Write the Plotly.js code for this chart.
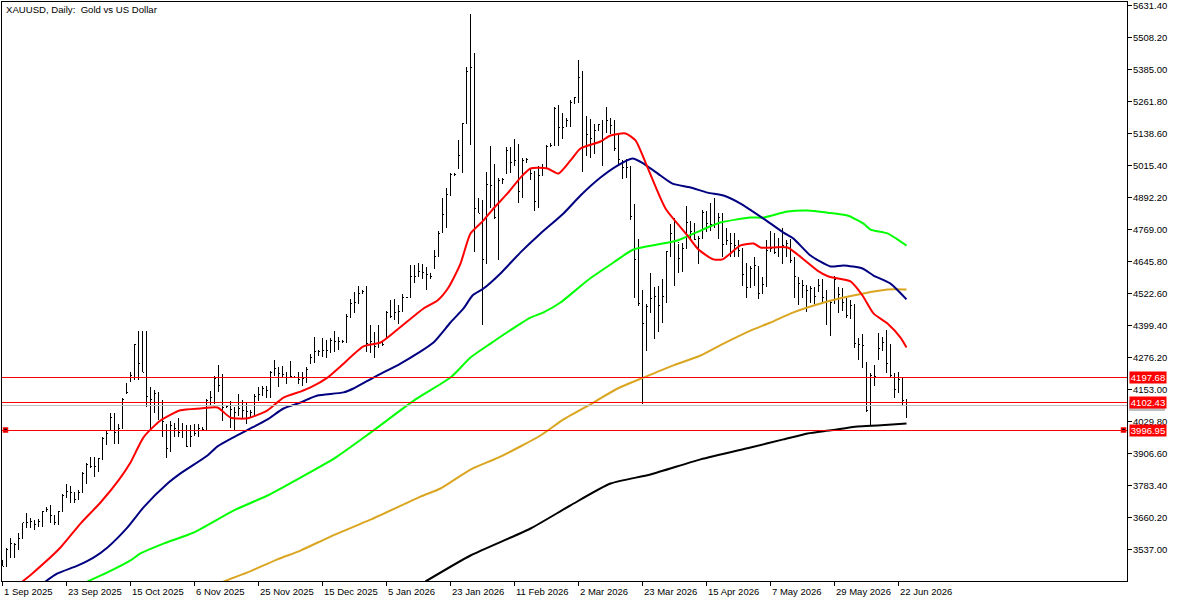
<!DOCTYPE html>
<html><head><meta charset="utf-8">
<script src="https://cdn.plot.ly/plotly-3.0.1.min.js"></script>
<style>html,body{margin:0;padding:0;background:#fff}#c{width:1179px;height:602px}
.shapelayer path,.ohlc path,.ohlclayer path,.xtick,.ytick,path.crisp{shape-rendering:crispEdges !important}</style>
</head><body><div id="c"></div>
<script>
const chartTitle = "XAUUSD, Daily:  Gold vs US Dollar";
const dateTickIdx = [0,16,32,48,64,80,96,112,128,144,160,176,192,208,224];
const dateTickText = ["1 Sep 2025","23 Sep 2025","15 Oct 2025","6 Nov 2025","25 Nov 2025","15 Dec 2025","5 Jan 2026","23 Jan 2026","11 Feb 2026","2 Mar 2026","23 Mar 2026","15 Apr 2026","7 May 2026","29 May 2026","22 Jun 2026"];
const priceTicks = [5631.4,5508.2,5385,5261.8,5138.6,5015.4,4892.2,4769,4645.8,4522.6,4399.4,4276.2,4153,4029.8,3906.6,3783.4,3660.2,3537];
const priceTickText = ["5631.40","5508.20","5385.00","5261.80","5138.60","5015.40","4892.20","4769.00","4645.80","4522.60","4399.40","4276.20","4153.00","4029.80","3906.60","3783.40","3660.20","3537.00"];

const highs = [3495,3541,3580,3564,3599,3641,3676,3657,3649,3653,
3687,3699,3707,3668,3687,3749,3791,3780,3753,3765,
3834,3872,3895,3895,3891,3969,3992,4061,4061,4022,
4119,4180,4219,4330,4380,4380,4377,4161,4153,4145,
4111,4022,4030,4026,4045,4026,4015,4015,4022,4022,
4007,4115,4149,4207,4246,4211,4092,4107,4084,4134,
4111,4103,4073,4134,4161,4168,4168,4226,4265,4238,
4242,4219,4261,4207,4219,4219,4238,4288,4354,4307,
4350,4342,4350,4377,4357,4342,4442,4500,4527,4550,
4535,4550,4403,4373,4403,4334,4457,4496,4500,4477,
4519,4511,4631,4634,4642,4638,4623,4600,4692,4765,
4889,4927,4985,4985,5112,5181,5393,5597,5450,4892,
4881,4992,5092,5023,4969,4969,5085,5085,5119,5100,
5046,5046,5000,4996,5012,5023,5096,5104,5239,5250,
5219,5200,5266,5281,5420,5381,5208,5196,5177,5177,
5192,5239,5200,5192,5135,5038,5042,5015,4866,4734,
4535,4484,4603,4546,4553,4580,4688,4792,4815,4715,
4719,4858,4800,4796,4746,4846,4842,4873,4889,4831,
4831,4773,4754,4754,4727,4696,4642,4627,4662,4627,
4588,4727,4765,4754,4738,4773,4727,4734,4662,4585,
4573,4553,4550,4546,4580,4580,4538,4496,4592,4546,
4542,4504,4496,4481,4350,4365,4257,4215,4246,4369,
4354,4384,4330,4215,4219,4199,4115];
const lows = [3472,3472,3506,3506,3537,3580,3618,3618,3614,3622,
3622,3680,3641,3630,3630,3680,3734,3718,3718,3726,
3753,3791,3849,3815,3834,3880,3938,3996,3945,3945,
4003,4138,4184,4188,4188,4219,4084,3999,4061,4034,
3972,3888,3911,3969,3969,3965,3930,3930,3976,3972,
3996,3996,4092,4099,4142,4030,4080,4003,3996,4053,
4045,4019,4042,4053,4107,4130,4122,4122,4207,4161,
4196,4176,4196,4196,4176,4165,4180,4253,4257,4284,
4280,4273,4295,4299,4307,4334,4334,4427,4446,4481,
4523,4299,4292,4273,4311,4322,4350,4427,4419,4407,
4450,4504,4511,4565,4585,4580,4538,4577,4619,4662,
4758,4773,4900,4977,5004,4985,5177,5096,4681,4831,
4400,4638,4850,4811,4650,4946,4985,4985,5015,4873,
4889,5027,4961,4839,4850,4977,5004,5089,5092,5089,
5119,5162,5162,5254,5258,4992,5054,5046,5061,5150,
5012,5142,5138,5073,5023,4965,4969,4804,4504,4473,
4099,4303,4446,4346,4373,4411,4488,4662,4550,4600,
4604,4696,4727,4727,4638,4738,4758,4765,4773,4734,
4662,4708,4662,4662,4665,4550,4507,4542,4553,4500,
4523,4546,4681,4673,4662,4638,4665,4642,4507,4477,
4507,4450,4488,4484,4527,4484,4400,4361,4484,4446,
4457,4427,4423,4311,4268,4234,4065,4015,4165,4265,
4303,4215,4203,4122,4138,4092,4045];
const opens = [3483,3472,3537,3560,3541,3580,3641,3641,3645,3634,
3645,3684,3691,3668,3641,3684,3745,3761,3757,3730,
3757,3830,3864,3857,3857,3887,3965,3996,4045,3988,
4003,4138,4184,4207,4326,4253,4219,4126,4115,4126,
4103,4019,3926,4003,4003,3988,3996,3934,3976,3984,
4003,3999,4111,4122,4196,4168,4084,4088,4076,4065,
4080,4073,4069,4065,4126,4134,4157,4149,4219,4234,
4215,4211,4199,4203,4199,4192,4196,4253,4276,4299,
4299,4303,4303,4342,4338,4338,4338,4434,4484,4488,
4523,4531,4330,4338,4319,4334,4350,4450,4434,4450,
4453,4507,4507,4588,4588,4607,4604,4596,4619,4665,
4758,4827,4904,4981,5004,5054,5177,5377,5393,4850,
4831,4654,4942,4938,4815,4958,4985,5073,5027,5035,
4915,5035,5000,4985,4877,4977,5004,5089,5092,5235,
5162,5169,5189,5258,5277,5331,5135,5135,5119,5162,
5173,5189,5189,5169,5081,5004,5008,5008,4819,4654,
4484,4407,4473,4504,4511,4477,4511,4684,4754,4719,
4657,4696,4796,4761,4730,4734,4834,4792,4788,4788,
4815,4711,4727,4715,4708,4688,4596,4546,4619,4627,
4523,4557,4688,4696,4681,4700,4708,4715,4646,4585,
4561,4553,4535,4542,4546,4553,4507,4492,4484,4530,
4507,4488,4438,4477,4330,4326,4257,4069,4207,4269,
4311,4334,4253,4207,4153,4192,4111];
const closes = [3472,3537,3560,3557,3580,3641,3641,3645,3634,3645,
3684,3691,3668,3641,3684,3745,3761,3757,3730,3757,
3830,3864,3857,3857,3887,3965,3984,4045,3988,4003,
4115,4142,4207,4326,4253,4219,4126,4115,4138,4103,
4030,3926,4015,4003,3988,3996,3934,3972,3984,4003,
3999,4111,4122,4196,4168,4084,4088,4076,4065,4080,
4073,4069,4065,4126,4134,4157,4149,4219,4234,4215,
4211,4199,4203,4199,4192,4196,4230,4276,4299,4299,
4303,4303,4342,4338,4338,4338,4434,4484,4488,4523,
4531,4330,4338,4319,4334,4326,4450,4434,4450,4453,
4507,4507,4588,4588,4607,4604,4596,4588,4665,4754,
4827,4904,4981,4981,5054,5177,5377,5393,4850,4831,
4654,4942,4938,4815,4958,4961,5073,5027,5035,4915,
5035,5038,4985,4877,4977,5004,5089,5092,5235,5162,
5162,5189,5258,5277,5354,5085,5135,5119,5150,5173,
5112,5189,5169,5081,5038,5008,5008,4819,4654,4484,
4407,4473,4504,4511,4477,4511,4684,4754,4727,4657,
4696,4796,4761,4730,4734,4834,4792,4788,4788,4815,
4711,4727,4715,4708,4688,4596,4546,4619,4631,4523,
4557,4688,4696,4681,4700,4708,4715,4650,4588,4561,
4553,4535,4542,4511,4553,4507,4492,4488,4577,4519,
4488,4438,4477,4330,4326,4322,4073,4207,4203,4311,
4334,4253,4207,4153,4192,4111,4102.43];

const redIdx = [5,7.75,14.5,19.5,24.5,29,32,35.25,39.5,44.5,49.5,53.75,57,61.25,66.25,70.25,74.5,77,81.25,84.5,90.25,94.5,98.75,105.25,108.75,111.5,114.5,117,120.25,122.75,126.25,129.5,132,136.25,139,142,144.5,149.5,152,155.75,158.25,161.25,165.75,171.25,174,177.75,180,184.5,187.75,189.5,196.25,198.75,203.75,206.5,212,215,217.75,221.25,224.5,226];
const redVal = [3414,3449,3545,3637,3718,3803,3872,3969,4034,4073,4080,4084,4045,4042,4073,4122,4145,4161,4199,4242,4319,4334,4384,4465,4496,4546,4638,4754,4804,4850,4908,4969,5004,5004,4985,5035,5081,5108,5131,5139,5112,5008,4850,4746,4692,4654,4654,4708,4715,4700,4700,4673,4611,4588,4569,4515,4446,4407,4353,4315];
const blueIdx = [10.75,13.75,18.75,22.75,26.25,31.25,35.25,41.25,44.5,51.25,53.75,57.75,62,66.25,70.25,74.5,76.25,78.75,85.25,87.75,92.75,99.5,103.75,107.75,112,115.25,117.5,120.25,124.5,129.5,134.5,140.25,144.5,149.5,153.75,157.5,160.25,164.5,167.5,172,176.25,180.25,184.5,190.25,195.25,197.75,202,207,210.25,215,217.75,222,226];
const blueVal = [3414,3445,3475,3506,3545,3622,3699,3791,3830,3899,3934,3969,4003,4038,4080,4103,4115,4130,4142,4157,4199,4253,4292,4334,4411,4465,4515,4542,4600,4681,4754,4831,4900,4969,5015,5042,5023,4977,4946,4931,4911,4900,4869,4811,4757,4734,4669,4627,4631,4619,4592,4561,4500];
const greenIdx = [21.25,26.25,32,34.5,40.25,47.75,57.75,66.25,74.5,83.25,92,103.25,112,117,122,129.5,132,135.25,139.5,146.25,152.75,157.75,168.75,174.5,179.5,187,190.25,196.25,201.25,206.25,211.25,215.25,217,221.25,226];
const greenVal = [3414,3449,3495,3522,3560,3602,3687,3745,3814,3891,3987,4115,4199,4276,4330,4407,4430,4450,4488,4573,4642,4692,4727,4765,4796,4815,4815,4838,4842,4834,4823,4792,4769,4754,4707];
const goldIdx = [55.25,61.25,68.75,74.5,82,92,104.5,109.5,117,124.5,134.5,140.25,147.75,153.75,160.25,167.75,174.5,180.25,187,192,197.75,204.5,210.25,215.25,221.25,226];
const goldVal = [3414,3449,3499,3533,3587,3652,3741,3772,3845,3895,3976,4038,4103,4157,4199,4246,4284,4330,4380,4411,4450,4484,4507,4523,4538,4538];
const blackIdx = [105.75,117,132,142,152,162,174.5,187,195.25,201.25,207,213.75,218.75,226];
const blackVal = [3414,3514,3618,3707,3791,3826,3884,3930,3961,3984,3996,4011,4015,4022];

const levelPrices = [4197.68,4102.43,3996.95];
const levelText = ["4197.68","4102.43","3996.95"];
const askPrice = 4091;
const markerIdx = [0.75,280.25];
const markerVal = [3996.95,3996.95];

const barIdx = highs.map((_,i)=>i);
const FONT = "'Liberation Sans', Arial, sans-serif";
const FS = 9.5;
const maLine = (x,y,color)=>({type:'scatter',mode:'lines',x:x,y:y,line:{color:color,width:2,shape:'spline',smoothing:0.6},hoverinfo:'skip',showlegend:false});
const traces = [
 {type:'ohlc',x:barIdx,open:opens,high:highs,low:lows,close:closes,tickwidth:0.25,
  increasing:{line:{color:'#000',width:1}},decreasing:{line:{color:'#000',width:1}},hoverinfo:'skip',showlegend:false},
 maLine(blackIdx,blackVal,'#000000'),
 maLine(goldIdx,goldVal,'#daa520'),
 maLine(greenIdx,greenVal,'#00ff00'),
 maLine(blueIdx,blueVal,'#000080'),
 maLine(redIdx,redVal,'#ff0000'),
 {type:'scatter',mode:'markers',x:markerIdx,y:markerVal,cliponaxis:false,
  marker:{symbol:'square',size:4,color:'#000',line:{color:'#ff0000',width:1.5}},hoverinfo:'skip',showlegend:false}
];
const hline=(p,c)=>({type:'line',xref:'paper',x0:0,x1:1,yref:'y',y0:p,y1:p,line:{color:c,width:1},layer:'above'});
const askBox = {type:'rect',xref:'paper',x0:1.0018,x1:1.0338,yref:'y',y0:askPrice-21,y1:askPrice+21,fillcolor:'#c0c0c0',line:{width:0},layer:'above'};
const shapes = [hline(askPrice,'#c0c0c0'),askBox].concat(levelPrices.map(p=>hline(p,'#ff0000')));
const annotations = [
 {text:chartTitle,xref:'paper',yref:'paper',x:0,y:1,xshift:3,yshift:-1,xanchor:'left',yanchor:'top',showarrow:false,borderpad:0,font:{family:FONT,size:9.6,color:'#000'}}
].concat(levelPrices.map((p,i)=>({text:levelText[i],xref:'paper',yref:'y',x:1,y:p,xshift:2,xanchor:'left',yanchor:'middle',showarrow:false,width:36,height:11,borderpad:0,bgcolor:'#ff0000',font:{family:FONT,size:FS,color:'#fff'}})))
.concat(dateTickIdx.map((v,i)=>({text:dateTickText[i],xref:'x',yref:'paper',x:v,y:0,yshift:-4,xanchor:'left',yanchor:'top',showarrow:false,borderpad:0,font:{family:FONT,size:FS,color:'#000'}})));
const layout = {
 width:1179,height:602,margin:{l:2,r:52,t:2,b:21,pad:0},paper_bgcolor:'#fff',plot_bgcolor:'#fff',showlegend:false,
 xaxis:{type:'linear',range:[-0.125,281.125],showgrid:false,zeroline:false,showline:true,linecolor:'#000',linewidth:1,mirror:true,
  tickmode:'array',tickvals:dateTickIdx,ticks:'outside',ticklen:4,tickcolor:'#000',tickwidth:1,showticklabels:false,rangeslider:{visible:false}},
 yaxis:{side:'right',range:[3415.85,5645],showgrid:false,zeroline:false,showline:true,linecolor:'#000',linewidth:1,mirror:true,
  tickmode:'array',tickvals:priceTicks,ticktext:priceTickText,ticks:'outside',ticklen:4,tickcolor:'#000',tickwidth:1,ticklabeloverflow:'allow',ticklabelstandoff:-1,
  tickfont:{family:FONT,size:FS,color:'#000'}},
 shapes:shapes,annotations:annotations
};
Plotly.newPlot('c',traces,layout,{staticPlot:true,displayModeBar:false});
</script></body></html>
